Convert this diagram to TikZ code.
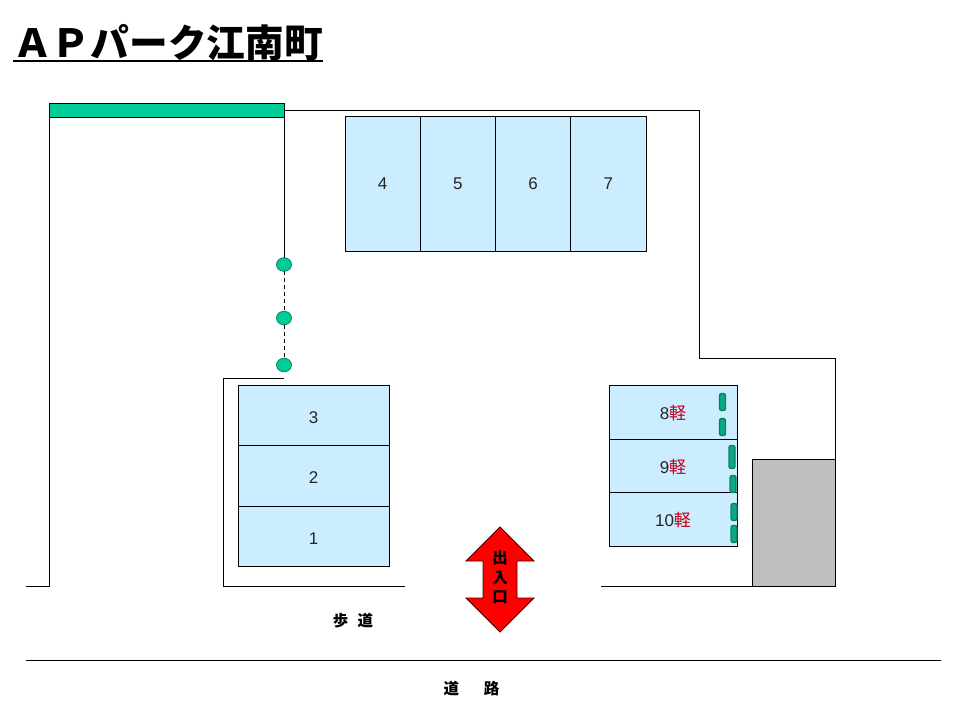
\documentclass[tikz,border=0pt]{standalone}
\usepackage{fontspec}
\setmainfont{Liberation Sans}
\newfontfamily\cjk{Noto Sans CJK JP}
\usepackage{tikz}
\usetikzlibrary{positioning,shapes.geometric}
\definecolor{slotblue}{HTML}{CCECFF}
\definecolor{postgreen}{HTML}{00CC99}
\definecolor{pillgreen}{HTML}{0BA883}
\definecolor{pilledge}{HTML}{0B7F63}
\definecolor{keired}{HTML}{C00018}
\newcommand{\kei}{{\cjk\color{keired}軽}}

\begin{document}
\begin{tikzpicture}[
    x=1pt,
    y=-1pt,
    wall/.style={
      draw=black,
      line width=1pt
    },
    topslot/.style={
      draw=black,
      fill=slotblue,
      line width=0.8pt,
      outer sep=0pt,
      inner sep=0pt,
      minimum width=75.25pt,
      minimum height=135pt,
      text=black!85,
      text height=12.5pt,
      text depth=0pt,
      font=\fontsize{17}{17}\selectfont
    },
    leftslot/.style={
      topslot,
      minimum width=151pt,
      minimum height=60.5pt,
      text height=16pt,
      xshift=0pt
    },
    rightslot/.style={
      topslot,
      minimum width=128pt,
      minimum height=53.5pt,
      text height=14.5pt
    },
    mypost/.style={
      ellipse,
      draw=pilledge,
      fill=postgreen,
      line width=0.8pt,
      outer sep=0pt,
      inner sep=0pt,
      minimum width=15pt,
      minimum height=13.5pt
    },
    mypill/.style={
      draw=pilledge,
      fill=pillgreen,
      line width=1.3pt,
      rounded corners=2pt,
      inner sep=0pt,
      minimum width=6pt,
      minimum height=17pt
    },
    bigpill/.style={
      mypill,
      minimum height=23pt
    },
    roadtext/.style={
      font=\cjk\bfseries\fontsize{15.5}{15.5}\selectfont,
      inner sep=0pt
    }
    ]
    \useasboundingbox (0,0) rectangle (960,720);

    \node[anchor=south west,inner sep=0pt,font=\cjk\bfseries\fontsize{38.7}{39}\selectfont] (title) at (13,61) {ＡＰパーク江南町};
    \draw[line width=2pt] (title.south west) -- (title.south east);

    % walls
    \draw[wall] (26,586) -- (49,586) -- (49,110);
    \draw[wall] (284,110) -- (699,110) -- (699,358) -- (835,358) -- (835,586) -- (601,586);
    \draw[wall] (284,378) -- (223,378) -- (223,586) -- (405,586);
    \node[draw=black,fill=postgreen,line width=0.8pt,outer sep=0pt,minimum width=235pt,minimum height=14pt,inner sep=0pt,anchor=north west] (bar) at (49,103) {};
    \node[draw=black,fill=black!25,line width=0.8pt,outer sep=0pt,minimum width=83pt,minimum height=127pt,inner sep=0pt,anchor=north west] (shed) at (752,459) {};

    % posts
    \node[mypost] (p1) at (284,264.5) {};
    \node[mypost] (p2) at (284,318) {};
    \node[mypost] (p3) at (284,365) {};
    \draw[wall] (bar.south east) -- (p1);
    \draw[wall,dash pattern=on 4pt off 3pt] (p1) -- (p2);
    \draw[wall,dash pattern=on 4pt off 3pt] (p2) -- (p3);

    % slots
    \node[topslot,anchor=north west] (s4) at (345,116) {4};
    \node[topslot,right=0pt of s4] (s5) {5};
    \node[topslot,right=0pt of s5] (s6) {6};
    \node[topslot,right=0pt of s6] (s7) {7};

    \node[leftslot,anchor=north west] (s3) at (238,385) {3};
    \node[leftslot,below=0pt of s3] (s2) {2};
    \node[leftslot,below=0pt of s2] (s1) {1};

    \node[rightslot,anchor=north west] (s8) at (609,385.5) {8\kei};
    \node[rightslot,below=0pt of s8] (s9) {9\kei};
    \node[rightslot,below=0pt of s9] (s10) {10\kei};

    % stops
    \node[mypill] (c1) at (722.5,402) {};
    \node[mypill] (c2) at (722.5,427) {};
    \node[bigpill] (c3) at (732,457) {};
    \node[mypill] (c4) at (733,484) {};
    \node[mypill] (c5) at (734,512) {};
    \node[mypill] (c6) at (734,534) {};

    % gate
    \draw[draw=black!70!red,fill=red,line width=0.8pt] (500,527) -- (534,561) -- (517,561) -- (517,598) -- (534,598)
      -- (500,632) -- (466,598) -- (483,598) -- (483,561) -- (466,561) -- cycle;
    \node[align=center,inner sep=0pt,font=\cjk\bfseries\fontsize{15.5}{19.5}\selectfont] (gate) at (500,577.5) {出\\入\\口};

    % road
    \node[roadtext] (walk) at (353,621) {歩\hspace{0.6em}道};
    \draw[wall] (26,660) -- (941,660);
    \node[roadtext] (road) at (471.5,689) {道\hspace{1.6em}路};
\end{tikzpicture}
\end{document}
